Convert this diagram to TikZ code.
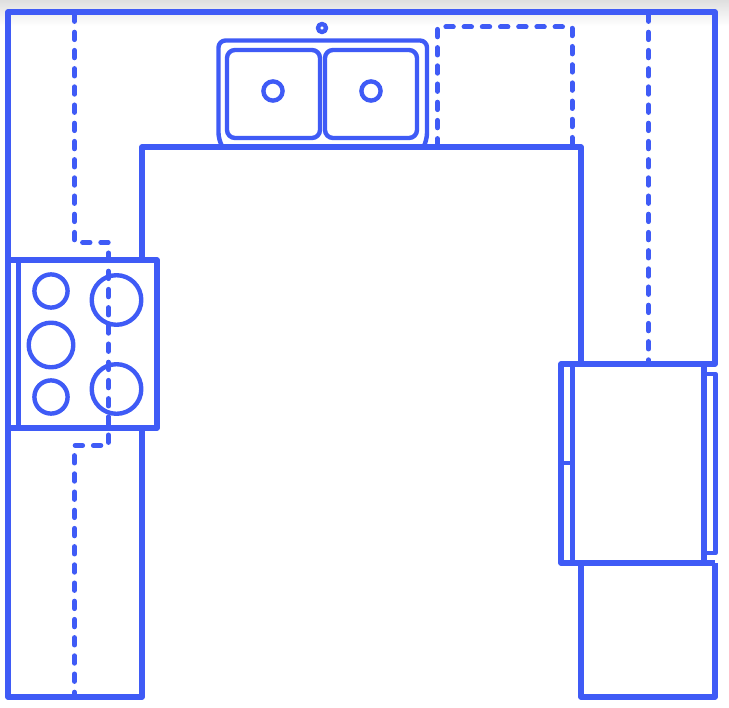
\documentclass[tikz,border=0pt]{standalone}
\definecolor{planblue}{HTML}{3F5BF6}
\definecolor{edgegrey}{HTML}{DFDFDF}
\tikzset{
  wall/.style={draw=planblue,line width=5.6pt,line join=round},
  thin line/.style={draw=planblue,line width=4.4pt,line join=round},
  hidden line/.style={draw=planblue,line width=5pt,line cap=round,line join=round,dash pattern=on 7.4pt off 10.8pt}
}
\begin{document}
\begin{tikzpicture}[x=1pt,y=-1pt]
\useasboundingbox (0,0) rectangle (729,708);
\fill[white] (0,0) rectangle (729,708);
\shade[top color=edgegrey,bottom color=white] (0,0) rectangle (729,26);
% hidden cabinet lines
\draw[hidden line] (74.5,14) -- (74.5,242.5) -- (108.5,242.5) -- (108.5,445.5) -- (74.5,445.5) -- (74.5,696);
\draw[hidden line] (648.5,14) -- (648.5,363);
\draw[hidden line] (437.5,146) -- (437.5,27) -- (572,27) -- (572,146);
% counter walls
\draw[wall] (142,260) -- (142,147) -- (581,147) -- (581,364);
\draw[wall] (581,563) -- (581,697) -- (715,697) -- (715,563);
\draw[wall] (142,428) -- (142,697) -- (8,697) -- (8,12) -- (715,12) -- (715,364) -- (704,364);
% stove
\draw[wall] (8,260) -- (157,260) -- (157,428) -- (8,428);
\draw[wall] (18.5,260) -- (18.5,428);
\draw[thin line] (51,291) circle[radius=16.6];
\draw[thin line] (51,345) circle[radius=22.3];
\draw[thin line] (51,397) circle[radius=16.6];
\draw[thin line] (116.5,300) circle[radius=24.8];
\draw[thin line] (116.5,389) circle[radius=24.8];
% sink
\draw[thin line] (322,28) circle[radius=4];
\draw[thin line] (222,146) [rounded corners=7pt] -- (218.5,140) -- (218.5,40.5) -- (427,40.5) -- (427,140) [sharp corners] -- (424,146);
\draw[thin line,rounded corners=8pt] (227,50) rectangle (320,138);
\draw[thin line,rounded corners=8pt] (325,50) rectangle (417,138);
\draw[thin line] (273,91) circle[radius=9.6];
\draw[thin line] (371,91) circle[radius=9.6];
% fridge
\draw[wall] (561,364) rectangle (704,563);
\draw[wall] (572.5,364) -- (572.5,563);
\draw[thin line] (561,463) -- (572.5,463);
\draw[thin line] (704,374) -- (715.5,374) -- (715.5,553) -- (704,553);
\draw[wall] (704,563) -- (715,563);
\end{tikzpicture}
\end{document}
